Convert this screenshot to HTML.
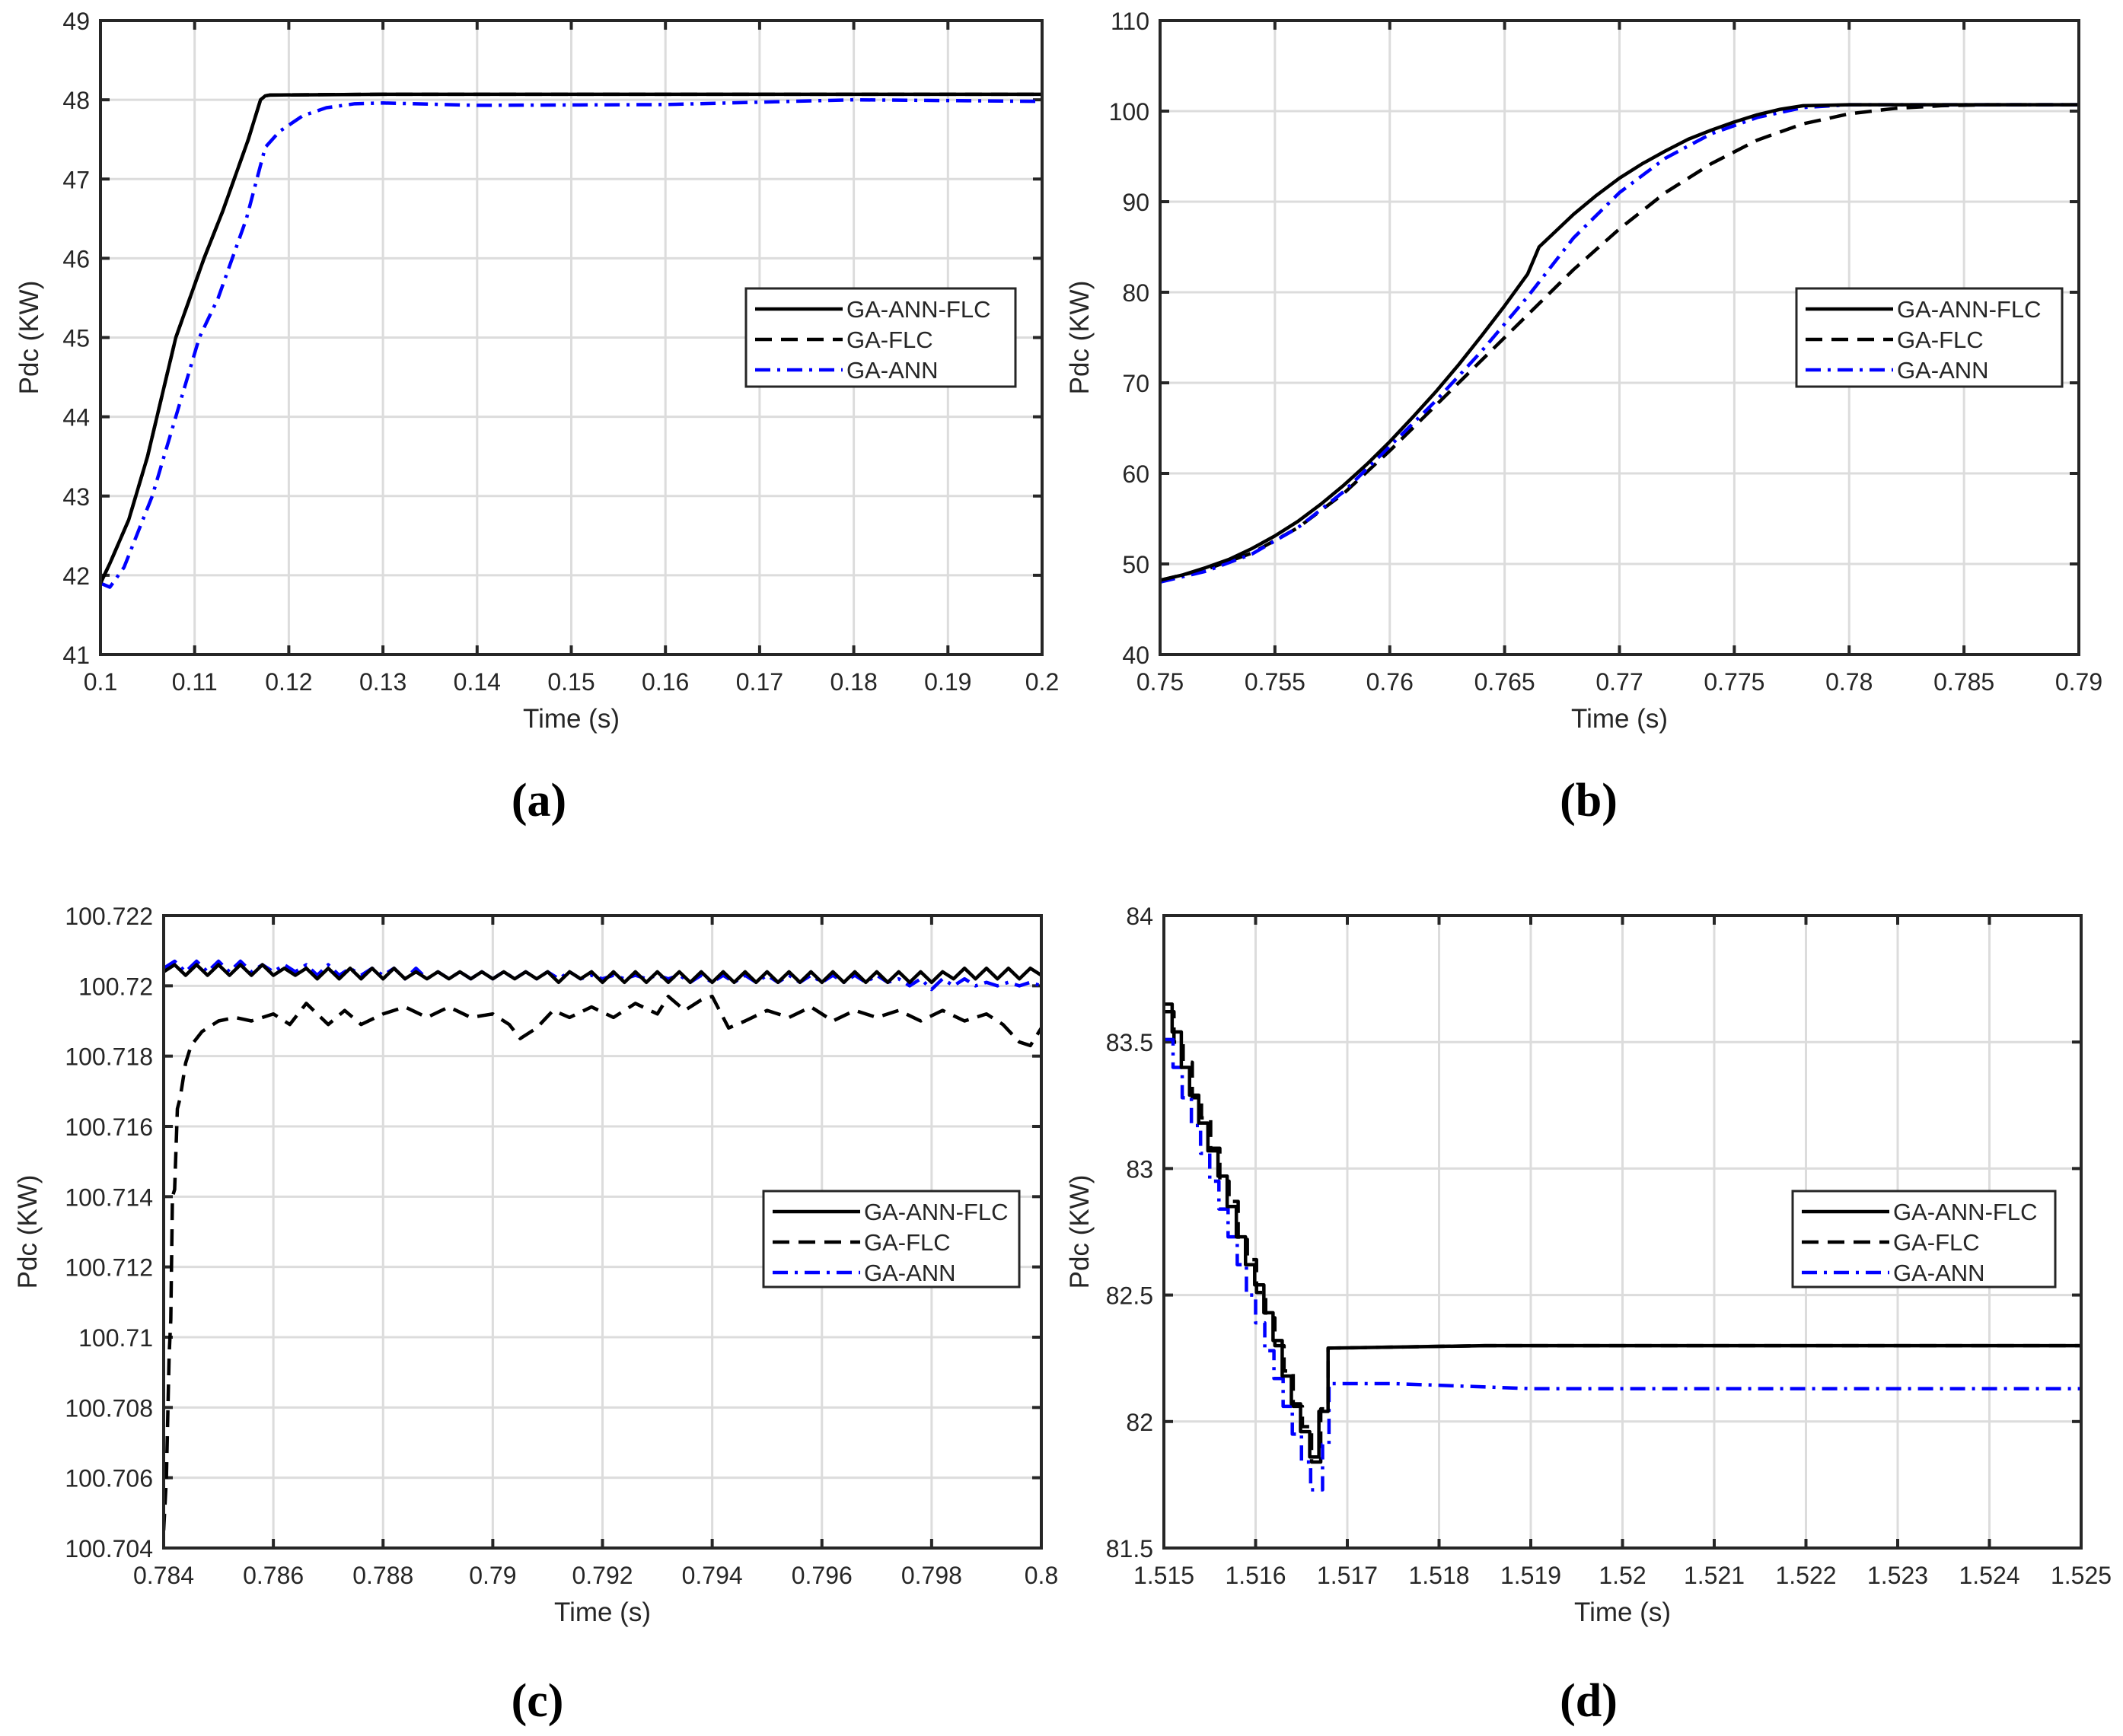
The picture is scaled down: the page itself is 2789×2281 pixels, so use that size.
<!DOCTYPE html>
<html><head><meta charset="utf-8"><title>Pdc comparison</title>
<style>
html,body{margin:0;padding:0;background:#fff;}
svg{display:block;}
text{font-family:"Liberation Sans",Arial,sans-serif;fill:#262626;}
.cap{font-family:"Liberation Serif","DejaVu Serif",serif;font-weight:bold;fill:#000;}
</style></head>
<body>
<svg id="fig" xmlns="http://www.w3.org/2000/svg" width="2789" height="2281" viewBox="0 0 2789 2281"></svg>
<script>
// ---------- Panel (a) data ----------
const aX_flc = [0.1,0.101,0.103,0.105,0.108,0.111,0.113,0.1157,0.117,0.1175,0.118,0.13,0.15,0.17,0.2];
const aY_annflc = [41.9,42.15,42.7,43.5,45.0,46.0,46.6,47.5,48.0,48.05,48.06,48.07,48.07,48.07,48.07];
const aY_flc = [41.9,42.15,42.7,43.5,45.0,46.0,46.6,47.5,48.0,48.05,48.06,48.07,48.07,48.07,48.07];
const aX_ann = [0.1,0.101,0.1025,0.1055,0.108,0.1105,0.1125,0.1155,0.1175,0.119,0.1215,0.124,0.127,0.13,0.14,0.16,0.17,0.18,0.2];
const aY_ann = [41.9,41.85,42.1,43.0,44.0,45.0,45.5,46.5,47.4,47.6,47.8,47.9,47.95,47.96,47.93,47.94,47.97,48.0,47.98];
const aXTicks = [0.1,0.11,0.12,0.13,0.14,0.15,0.16,0.17,0.18,0.19,0.2];
const aXLabels = ["0.1","0.11","0.12","0.13","0.14","0.15","0.16","0.17","0.18","0.19","0.2"];
const aYTicks = [41,42,43,44,45,46,47,48,49];
const aYLabels = ["41","42","43","44","45","46","47","48","49"];

// ---------- Panel (b) data ----------
const bX_annflc = [0.75,0.751,0.752,0.753,0.754,0.755,0.756,0.757,0.758,0.759,0.76,0.761,0.762,0.763,0.764,0.765,0.766,0.7665,0.767,0.768,0.769,0.77,0.771,0.772,0.773,0.774,0.775,0.776,0.777,0.778,0.78,0.79];
const bY_annflc = [48.2,48.8,49.6,50.5,51.7,53.1,54.7,56.6,58.7,61.0,63.5,66.2,69.0,72.0,75.2,78.5,82.0,85.0,86.2,88.6,90.7,92.6,94.2,95.6,96.9,97.9,98.8,99.6,100.2,100.6,100.7,100.7];
const bX_flc = [0.75,0.752,0.754,0.756,0.758,0.76,0.762,0.764,0.766,0.768,0.77,0.772,0.774,0.776,0.778,0.78,0.782,0.784,0.786,0.79];
const bY_flc = [48.2,49.4,51.2,54,57.8,62.5,67.5,72.5,77.5,82.5,87,91,94.2,96.8,98.6,99.7,100.3,100.6,100.7,100.7];
const bX_ann = [0.75,0.752,0.754,0.756,0.758,0.76,0.762,0.764,0.766,0.768,0.77,0.772,0.774,0.776,0.778,0.78,0.79];
const bY_ann = [48,49.2,51.1,54,58,63,68,73.5,79.5,86,91,94.8,97.5,99.3,100.4,100.7,100.7];
const bXTicks = [0.75,0.755,0.76,0.765,0.77,0.775,0.78,0.785,0.79];
const bXLabels = ["0.75","0.755","0.76","0.765","0.77","0.775","0.78","0.785","0.79"];
const bYTicks = [40,50,60,70,80,90,100,110];
const bYLabels = ["40","50","60","70","80","90","100","110"];

// ---------- Panel (c) data (x step 0.0002 from 0.784) ----------
const cX0 = 0.784, cDX = 0.0002;
const cY_annflc = [100.7204,100.7206,100.7203,100.7206,100.7203,100.7206,100.7203,100.7206,100.7203,100.7206,100.7203,100.7205,100.7203,100.7205,100.7202,100.7205,100.7202,100.7205,100.7202,100.7205,100.7202,100.7205,100.7202,100.7204,100.7202,100.7204,100.7202,100.7204,100.7202,100.7204,100.7202,100.7204,100.7202,100.7204,100.7202,100.7204,100.7201,100.7204,100.7202,100.7204,100.7201,100.7204,100.7201,100.7204,100.7201,100.7204,100.7201,100.7204,100.7201,100.7204,100.7201,100.7204,100.7201,100.7204,100.7201,100.7204,100.7201,100.7204,100.7201,100.7204,100.7201,100.7204,100.7201,100.7204,100.7201,100.7204,100.7201,100.7204,100.7201,100.7204,100.7201,100.7204,100.7202,100.7205,100.7202,100.7205,100.7202,100.7205,100.7202,100.7205,100.7203];
const cY_ann = [100.7205,100.7207,100.7204,100.7207,100.7204,100.7207,100.7204,100.7207,100.7204,100.7206,100.7204,100.7206,100.7204,100.7206,100.7203,100.7206,100.7203,100.7205,100.7203,100.7205,100.7203,100.7205,100.7202,100.7205,100.7202,100.7204,100.7202,100.7204,100.7202,100.7204,100.7202,100.7204,100.7202,100.7204,100.7202,100.7204,100.7202,100.7204,100.7202,100.7203,100.7202,100.7203,100.7202,100.7203,100.7202,100.7203,100.7202,100.7203,100.7201,100.7203,100.7201,100.7203,100.7201,100.7203,100.7201,100.7203,100.7201,100.7203,100.7201,100.7203,100.7201,100.7203,100.7201,100.7203,100.7201,100.7203,100.7201,100.7202,100.7200,100.7202,100.7199,100.7202,100.7200,100.7202,100.7200,100.7201,100.7200,100.7201,100.7200,100.7201,100.7200];
const cX_flc = [0.784,0.78405,0.7841,0.78413,0.78416,0.7842,0.78425,0.7843,0.7844,0.7845,0.7847,0.785,0.7853,0.7856,0.786,0.7863,0.7866,0.787,0.7873,0.7876,0.788,0.7884,0.7888,0.7892,0.7896,0.79,0.7903,0.7905,0.7908,0.7911,0.7914,0.7918,0.7922,0.7926,0.793,0.7932,0.7935,0.7938,0.794,0.7943,0.7946,0.795,0.7954,0.7958,0.7962,0.7966,0.797,0.7974,0.7978,0.7982,0.7986,0.799,0.7993,0.7996,0.7998,0.8];
const cY_flc = [100.7045,100.7060,100.7095,100.7105,100.7140,100.7142,100.7165,100.7168,100.7178,100.7183,100.7187,100.7190,100.7191,100.7190,100.7192,100.7189,100.7195,100.7189,100.7193,100.7189,100.7192,100.7194,100.7191,100.7194,100.7191,100.7192,100.7189,100.7185,100.7188,100.7193,100.7191,100.7194,100.7191,100.7195,100.7192,100.7197,100.7193,100.7196,100.7197,100.7188,100.7190,100.7193,100.7191,100.7194,100.7190,100.7193,100.7191,100.7193,100.7190,100.7193,100.7190,100.7192,100.7189,100.7184,100.7183,100.7188];
const cXTicks = [0.784,0.786,0.788,0.79,0.792,0.794,0.796,0.798,0.8];
const cXLabels = ["0.784","0.786","0.788","0.79","0.792","0.794","0.796","0.798","0.8"];
const cYTicks = [100.704,100.706,100.708,100.71,100.712,100.714,100.716,100.718,100.72,100.722];
const cYLabels = ["100.704","100.706","100.708","100.71","100.712","100.714","100.716","100.718","100.72","100.722"];

// ---------- Panel (d) data (stairs) ----------
const dX_annflc = [1.515,1.51509,1.51519,1.51528,1.51538,1.51548,1.51559,1.51569,1.51579,1.51589,1.51599,1.51609,1.51619,1.51629,1.51639,1.51649,1.51659,1.51669,1.51679,1.5185,1.525];
const dY_annflc = [83.65,83.54,83.40,83.29,83.18,83.07,82.97,82.85,82.73,82.62,82.54,82.43,82.32,82.18,82.07,81.96,81.86,82.04,82.29,82.30,82.30];
const dX_flc = [1.515,1.51511,1.51521,1.51531,1.51541,1.51551,1.51561,1.51571,1.51581,1.51591,1.51601,1.51611,1.51621,1.51631,1.51641,1.51651,1.51661,1.51671,1.51679,1.5185,1.525];
const dY_flc = [83.62,83.50,83.42,83.28,83.20,83.08,82.95,82.87,82.72,82.64,82.51,82.41,82.30,82.20,82.06,81.98,81.84,82.05,82.29,82.30,82.30];
const dX_ann = [1.515,1.5151,1.5152,1.5153,1.5154,1.5155,1.5156,1.5157,1.5158,1.5159,1.516,1.5161,1.5162,1.5163,1.5164,1.5165,1.5166,1.51673,1.5168,1.5175,1.519,1.525];
const dY_ann = [83.51,83.40,83.28,83.17,83.06,82.95,82.84,82.73,82.62,82.50,82.39,82.28,82.17,82.06,81.95,81.84,81.73,81.91,82.15,82.15,82.13,82.13];
const dXTicks = [1.515,1.516,1.517,1.518,1.519,1.52,1.521,1.522,1.523,1.524,1.525];
const dXLabels = ["1.515","1.516","1.517","1.518","1.519","1.52","1.521","1.522","1.523","1.524","1.525"];
const dYTicks = [81.5,82,82.5,83,83.5,84];
const dYLabels = ["81.5","82","82.5","83","83.5","84"];

const legendNames = ["GA-ANN-FLC","GA-FLC","GA-ANN"];

const NS = "http://www.w3.org/2000/svg";
const fig = document.getElementById('fig');
function mk(tag, attrs, parent){
  const e = document.createElementNS(NS, tag);
  for (const k in attrs) e.setAttribute(k, attrs[k]);
  (parent||fig).appendChild(e);
  return e;
}
const STY = [
  {stroke:"#000", dash:null},
  {stroke:"#000", dash:"22 12"},
  {stroke:"#0000ff", dash:"20 9 4 9"}
];

function panel(p){
  const g = mk('g', {});
  
  
  const sx = v => p.L + (v - p.x0) / (p.x1 - p.x0) * (p.R - p.L);
  const sy = v => p.B - (v - p.y0) / (p.y1 - p.y0) * (p.B - p.T);
  p.xt.forEach((v,i) => {
    const x = sx(v);
    if (i>0 && i<p.xt.length-1) {
      const gl = mk('line', {x1:x, x2:x, y1:p.T, y2:p.B, stroke:"#dcdcdc", "stroke-width":3}, g);
      
      
    }
    mk('line', {x1:x, x2:x, y1:p.B, y2:p.B-12, stroke:"#262626", "stroke-width":4}, g);
    mk('line', {x1:x, x2:x, y1:p.T, y2:p.T+12, stroke:"#262626", "stroke-width":4}, g);
    const t = mk('text', {x:x, y:p.B+47, "font-size":32, "text-anchor":"middle"}, g);
    t.textContent = p.xl[i];
    
    
  });
  p.yt.forEach((v,i) => {
    const y = sy(v);
    if (i>0 && i<p.yt.length-1) {
      const gl = mk('line', {x1:p.L, x2:p.R, y1:y, y2:y, stroke:"#dcdcdc", "stroke-width":3}, g);
      
      
    }
    mk('line', {x1:p.L, x2:p.L+12, y1:y, y2:y, stroke:"#262626", "stroke-width":4}, g);
    mk('line', {x1:p.R, x2:p.R-12, y1:y, y2:y, stroke:"#262626", "stroke-width":4}, g);
    const t = mk('text', {x:p.L-14, y:y+12, "font-size":32, "text-anchor":"end"}, g);
    t.textContent = p.yl[i];
    
    
  });
  const cp = mk('clipPath', {id:'clip'+p.id}, g);
  mk('rect', {x:p.L, y:p.T, width:p.R-p.L, height:p.B-p.T}, cp);
  const order = [1,2,0];
  order.forEach(si => {
    const s = p.series[si];
    let d = "";
    s.x.forEach((xv,i) => {
      const X = sx(xv), Y = sy(s.y[i]);
      if (i===0) d += "M"+X+","+Y;
      else if (p.step && xv <= p.stepMaxX) d += "H"+X+"V"+Y;
      else d += "L"+X+","+Y;
    });
    const path = mk('path', {d:d, fill:"none", stroke:STY[si].stroke, "stroke-width":4.5, "stroke-linejoin":"round", "clip-path":"url(#clip"+p.id+")"}, g);
    if (STY[si].dash) path.setAttribute('stroke-dasharray', STY[si].dash);
    
    
  });
  const box = mk('rect', {x:p.L, y:p.T, width:p.R-p.L, height:p.B-p.T, fill:"none", stroke:"#262626", "stroke-width":4}, g);
  
  
  const xt = mk('text', {x:(p.L+p.R)/2, y:p.B+96, "font-size":35, "text-anchor":"middle"}, g);
  xt.textContent = "Time (s)";
  
  
  const yc = (p.T+p.B)/2;
  const yt = mk('text', {x:p.yTitleX, y:yc, "font-size":35, "text-anchor":"middle", transform:"rotate(-90 "+p.yTitleX+" "+yc+")"}, g);
  yt.textContent = "Pdc (KW)";
  
  
  const lg = mk('g', {}, g);
  
  
  mk('rect', {x:p.leg[0], y:p.leg[1], width:p.leg[2], height:p.leg[3], fill:"#fff", stroke:"#262626", "stroke-width":3}, lg);
  legendNames.forEach((n,i) => {
    const ry = p.leg[1] + 27 + i*40;
    const ln = mk('line', {x1:p.leg[0]+12, x2:p.leg[0]+127, y1:ry, y2:ry, stroke:STY[i].stroke, "stroke-width":4.5}, lg);
    if (STY[i].dash) ln.setAttribute('stroke-dasharray', STY[i].dash);
    
    
    const t = mk('text', {x:p.leg[0]+132, y:ry+11, "font-size":31}, lg);
    t.textContent = n;
    
    
  });
  const c = mk('text', {x:p.capX, y:p.capY, "font-size":62, "text-anchor":"middle", class:"cap"}, g);
  c.textContent = "(" + p.id + ")";
  
  
}

const cX = cY_annflc.map((_,i) => cX0 + i*cDX);

panel({id:'a', L:132, R:1369, T:27, B:860, x0:0.1, x1:0.2, y0:41, y1:49,
  xt:aXTicks, xl:aXLabels, yt:aYTicks, yl:aYLabels, yTitleX:50,
  leg:[980,379,354,129], capX:708, capY:1072,
  series:[{x:aX_flc,y:aY_annflc},{x:aX_flc,y:aY_flc},{x:aX_ann,y:aY_ann}]});
panel({id:'b', L:1524, R:2731, T:27, B:860, x0:0.75, x1:0.79, y0:40, y1:110,
  xt:bXTicks, xl:bXLabels, yt:bYTicks, yl:bYLabels, yTitleX:1430,
  leg:[2360,379,349,129], capX:2087, capY:1072,
  series:[{x:bX_annflc,y:bY_annflc},{x:bX_flc,y:bY_flc},{x:bX_ann,y:bY_ann}]});
panel({id:'c', L:215, R:1368, T:1203, B:2034, x0:0.784, x1:0.8, y0:100.704, y1:100.722,
  xt:cXTicks, xl:cXLabels, yt:cYTicks, yl:cYLabels, yTitleX:48,
  leg:[1003,1565,336,126], capX:706, capY:2255,
  series:[{x:cX,y:cY_annflc},{x:cX_flc,y:cY_flc},{x:cX,y:cY_ann}]});
panel({id:'d', L:1529, R:2734, T:1203, B:2034, x0:1.515, x1:1.525, y0:81.5, y1:84, step:true, stepMaxX:1.5169,
  xt:dXTicks, xl:dXLabels, yt:dYTicks, yl:dYLabels, yTitleX:1430,
  leg:[2355,1565,345,126], capX:2087, capY:2255,
  series:[{x:dX_annflc,y:dY_annflc},{x:dX_flc,y:dY_flc},{x:dX_ann,y:dY_ann}]});
</script>
</body></html>
